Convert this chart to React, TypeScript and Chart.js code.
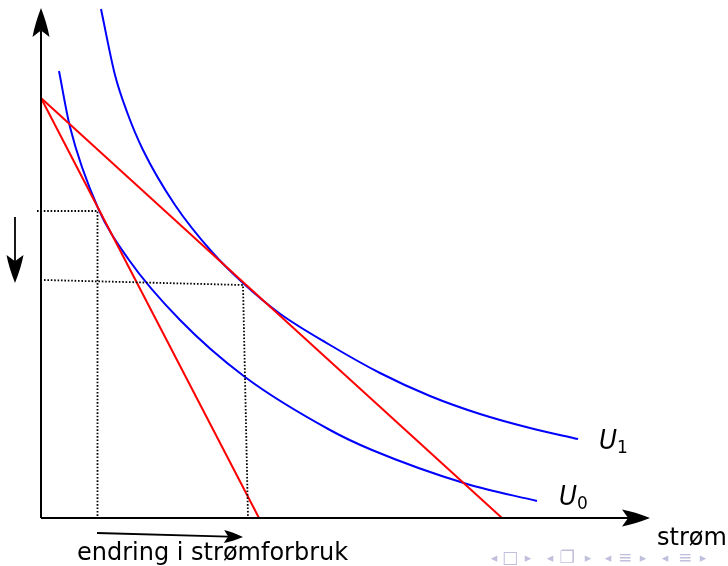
import React, { useEffect, useRef } from "react";
import { Chart, registerables } from "chart.js";

Chart.register(...registerables);

// ---- data (abstract units: x right, y up, origin at axis corner) ----
const budgetSteepX = [0, 21.8];
const budgetSteepY = [42, 0];
const budgetFlatX = [0, 46.1];
const budgetFlatY = [42, 0];

const u0X = [1.8, 2.9, 5.7, 8.8, 13.9, 20.4, 28.9, 33.1, 42.6, 49.6];
const u0Y = [44.7, 39.1, 31.0, 25.8, 19.8, 14.1, 8.8, 6.8, 3.4, 1.7];

const u1X = [6.0, 7.4, 8.6, 10.2, 13.4, 17.1, 20.2, 23.8, 28.9, 33.9, 38.9, 43.9, 48.9, 53.7];
const u1Y = [50.9, 44.3, 40.6, 36.8, 31.3, 26.6, 23.5, 20.5, 17.3, 14.5, 12.2, 10.4, 9.0, 7.9];

const guide0X = [-0.4, 5.65, 5.65];
const guide0Y = [30.7, 30.7, 0];
const guide1X = [0.3, 20.2, 20.7];
const guide1Y = [23.8, 23.3, 0];

const curveNames = ["U", "U"];
const curveSubs = ["1", "0"];
const xAxisLabel = "strøm";
const changeLabel = "endring i strømforbruk";
const navSymbols = ["◂", "□", "▸", "◂", "❐", "▸", "◂", "≡", "▸", "◂", "≡", "▸"];

const X_MAX = 60;
const Y_MAX = 51;

function pts(xs: number[], ys: number[]) {
  return xs.map((x, i) => ({ x, y: ys[i] }));
}

function arrowHead(
  ctx: CanvasRenderingContext2D,
  tx: number,
  ty: number,
  ang: number,
  len: number,
  hw: number,
  notch: number
) {
  ctx.save();
  ctx.translate(tx, ty);
  ctx.rotate(ang);
  ctx.beginPath();
  ctx.moveTo(0, 0);
  ctx.quadraticCurveTo(-len * 0.55, hw * 0.72, -len, hw);
  ctx.quadraticCurveTo(-len + notch * 0.6, hw * 0.4, -len + notch, 0);
  ctx.quadraticCurveTo(-len + notch * 0.6, -hw * 0.4, -len, -hw);
  ctx.quadraticCurveTo(-len * 0.55, -hw * 0.72, 0, 0);
  ctx.closePath();
  ctx.fillStyle = "#000";
  ctx.fill();
  ctx.restore();
}

function arrow(
  ctx: CanvasRenderingContext2D,
  x1: number,
  y1: number,
  x2: number,
  y2: number,
  width: number,
  len: number,
  hw: number
) {
  const ang = Math.atan2(y2 - y1, x2 - x1);
  const notch = len * 0.22;
  const ex = x2 - Math.cos(ang) * (len - notch);
  const ey = y2 - Math.sin(ang) * (len - notch);
  ctx.save();
  ctx.strokeStyle = "#000";
  ctx.lineWidth = width;
  ctx.beginPath();
  ctx.moveTo(x1, y1);
  ctx.lineTo(ex, ey);
  ctx.stroke();
  ctx.restore();
  arrowHead(ctx, x2, y2, ang, len, hw, notch);
}

const overlay = {
  id: "overlay",
  afterDatasetsDraw(chart: any) {
    const ctx: CanvasRenderingContext2D = chart.ctx;
    const xs = chart.scales.x;
    const ys = chart.scales.y;
    const px = (v: number) => xs.getPixelForValue(v);
    const py = (v: number) => ys.getPixelForValue(v);

    // axes
    arrow(ctx, px(0), py(0), px(0), py(51.0), 2, 29, 8.5);
    arrow(ctx, px(0), py(0), px(60.9), py(0), 2, 28, 8.5);

    // left downward arrow
    arrow(ctx, px(-2.6), py(30.1), px(-2.6), py(23.5), 1.8, 28, 8.5);

    // bottom change arrow
    arrow(ctx, px(5.6), py(-1.5), px(20.2), py(-1.9), 1.8, 19, 6.5);

    // text labels
    ctx.save();
    ctx.fillStyle = "#000";
    ctx.textBaseline = "alphabetic";
    ctx.textAlign = "left";
    ctx.font = "24px 'DejaVu Sans'";
    ctx.fillText(changeLabel, px(3.6), py(-4.2), 272);
    ctx.fillText(xAxisLabel, px(61.6), py(-2.7), 70);

    // curve labels
    const nameAnchors = [
      { x: 55.8, y: 6.9 },
      { x: 51.8, y: 1.3 },
    ];
    nameAnchors.forEach((a, i) => {
      ctx.font = "italic 27px 'DejaVu Sans'";
      ctx.fillText(curveNames[i], px(a.x), py(a.y), 18);
      ctx.font = "17px 'DejaVu Sans'";
      ctx.fillText(curveSubs[i], px(a.x) + 18, py(a.y) + 4);
    });

    // navigation symbols
    const navX = [494, 510, 528, 550, 567, 588, 608, 625, 643, 665, 685, 703];
    ctx.fillStyle = "#c0c0dc";
    ctx.textAlign = "center";
    ctx.textBaseline = "middle";
    navSymbols.forEach((s, i) => {
      const isBig = s !== "◂" && s !== "▸";
      ctx.font = (isBig ? "17px" : "13px") + " 'DejaVu Sans'";
      ctx.fillText(s, navX[i], 559);
    });
    ctx.restore();
  },
};

export default function App() {
  const ref = useRef<HTMLCanvasElement | null>(null);

  useEffect(() => {
    const canvas = ref.current;
    if (!canvas) return;
    const lineBase = {
      showLine: true,
      pointRadius: 0,
      pointHoverRadius: 0,
      fill: false,
      clip: false as any,
    };
    const chart = new Chart(canvas, {
      type: "scatter",
      data: {
        datasets: [
          {
            ...lineBase,
            label: "guide0",
            data: pts(guide0X, guide0Y),
            borderColor: "#000",
            borderWidth: 1.8,
            borderDash: [1.6, 1.8],
          },
          {
            ...lineBase,
            label: "guide1",
            data: pts(guide1X, guide1Y),
            borderColor: "#000",
            borderWidth: 1.8,
            borderDash: [1.6, 1.8],
          },
          {
            ...lineBase,
            label: "budget steep",
            data: pts(budgetSteepX, budgetSteepY),
            borderColor: "#ff0000",
            borderWidth: 2,
          },
          {
            ...lineBase,
            label: "budget flat",
            data: pts(budgetFlatX, budgetFlatY),
            borderColor: "#ff0000",
            borderWidth: 2,
          },
          {
            ...lineBase,
            label: "U0",
            data: pts(u0X, u0Y),
            borderColor: "#0000ff",
            borderWidth: 2,
            cubicInterpolationMode: "monotone",
          },
          {
            ...lineBase,
            label: "U1",
            data: pts(u1X, u1Y),
            borderColor: "#0000ff",
            borderWidth: 2,
            cubicInterpolationMode: "monotone",
          },
        ],
      },
      options: {
        animation: false,
        responsive: false,
        devicePixelRatio: 1,
        layout: { padding: { left: 41, right: 87, top: 8, bottom: 48 } },
        plugins: {
          legend: { display: false },
          tooltip: { enabled: false },
          title: { display: false },
        },
        events: [],
        scales: {
          x: { type: "linear", min: 0, max: X_MAX, display: false },
          y: { type: "linear", min: 0, max: Y_MAX, display: false },
        },
      },
      plugins: [overlay],
    });
    return () => chart.destroy();
  }, []);

  return (
    <div style={{ position: "absolute", left: 0, top: 0, width: 728, height: 566, background: "#fff" }}>
      <canvas ref={ref} width={728} height={566} style={{ display: "block" }} />
    </div>
  );
}
